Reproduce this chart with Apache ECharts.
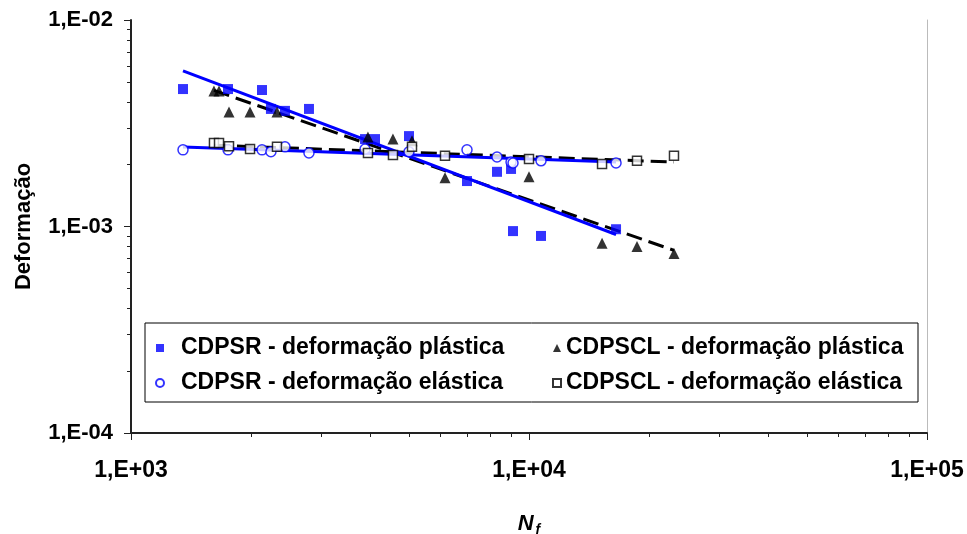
<!DOCTYPE html>
<html>
<head>
<meta charset="utf-8">
<script src="https://cdn.jsdelivr.net/npm/echarts@6/dist/echarts.min.js"></script>
<style>
  html, body { margin: 0; padding: 0; background: #fff; }
  #chart { width: 967px; height: 534px; }
</style>
</head>
<body>
<div id="chart"></div>
<script>
// CDPSR specimens
const srN = [1351, 1753, 2134, 2247, 2437, 2800, 3873, 4103, 4995, 6986, 8311, 9013, 9117, 10720, 16546]
const srPlastic = [0.00463, 0.00463, 0.00458, 0.00371, 0.00363, 0.00371, 0.00265, 0.00265, 0.00274, 0.00166, 0.00184, 0.00190, 0.00095, 0.00090, 0.00097]
const srElasticN = [1351, 1753, 2134, 2247, 2437, 2800, 3873, 4995, 6986, 8311, 9013, 9117, 10720, 16546]
const srElastic = [0.00235, 0.00235, 0.00235, 0.00230, 0.00243, 0.00227, 0.00237, 0.00230, 0.00235, 0.00217, 0.00205, 0.00203, 0.00208, 0.00203]

// CDPSCL specimens
const sclN = [1616, 1664, 1763, 1991, 2327, 3939, 4552, 5082, 6151, 10000, 15259, 18680, 23136]
const sclPlastic = [0.00453, 0.00453, 0.00358, 0.00358, 0.00358, 0.00271, 0.00265, 0.00260, 0.00172, 0.00174, 0.00083, 0.00080, 0.00074]
const sclElastic = [0.00254, 0.00254, 0.00245, 0.00237, 0.00243, 0.00227, 0.00222, 0.00243, 0.00220, 0.00212, 0.00201, 0.00208, 0.00220]

const seriesNames = [
    'CDPSR - deformação plástica',
    'CDPSCL - deformação plástica',
    'CDPSR - deformação elástica',
    'CDPSCL - deformação elástica'
]

const xMinor = [2e3, 3e3, 4e3, 5e3, 6e3, 7e3, 8e3, 9e3, 2e4, 3e4, 4e4, 5e4, 6e4, 7e4, 8e4, 9e4]
const yMinor = [2e-4, 3e-4, 4e-4, 5e-4, 6e-4, 7e-4, 8e-4, 9e-4, 2e-3, 3e-3, 4e-3, 5e-3, 6e-3, 7e-3, 8e-3, 9e-3]

const FONT = '"Liberation Sans", Arial, sans-serif'
const BLUE = '#0000ff'

function pairs(xs, ys) {
    return xs.map((x, i) => [x, ys[i]])
}

// power-law trend line (least squares in log-log space), like the spreadsheet trendline
function powerFit(xs, ys) {
    const lx = xs.map(Math.log10), ly = ys.map(Math.log10)
    const n = lx.length
    const mx = lx.reduce((a, b) => a + b, 0) / n
    const my = ly.reduce((a, b) => a + b, 0) / n
    let sxy = 0, sxx = 0
    for (let i = 0; i < n; i++) {
        sxy += (lx[i] - mx) * (ly[i] - my)
        sxx += (lx[i] - mx) * (lx[i] - mx)
    }
    const b = sxy / sxx
    const a = my - b * mx
    const x0 = Math.min(...xs), x1 = Math.max(...xs)
    return [[x0, Math.pow(10, a + b * Math.log10(x0))], [x1, Math.pow(10, a + b * Math.log10(x1))]]
}

function sciLabel(v) {
    const e = Math.round(Math.log10(v))
    const s = e < 0 ? '-' : '+'
    return '1,E' + s + String(Math.abs(e)).padStart(2, '0')
}

const labelStyle = { color: '#000', fontFamily: FONT, fontWeight: 'bold', fontSize: 22 }
const legendText = { color: '#000', fontFamily: FONT, fontWeight: 'bold', fontSize: 23, lineHeight: 24 }

const chart = echarts.init(document.getElementById('chart'), null, { renderer: 'canvas' })
chart.setOption({
    animation: false,
    backgroundColor: '#fff',
    grid: { left: 131, right: 40, top: 20, bottom: 101, containLabel: false, outerBoundsMode: 'none' },
    xAxis: [
        {
            type: 'log', logBase: 10, min: 1e3, max: 1e5,
            name: '{n|N}{f|f}', nameLocation: 'middle', nameGap: 78,
            nameTextStyle: {
                rich: {
                    n: { fontFamily: FONT, fontSize: 22, fontWeight: 'bold', fontStyle: 'italic', color: '#000' },
                    f: { fontFamily: FONT, fontSize: 14, fontWeight: 'bold', fontStyle: 'italic', color: '#000', padding: [12, 0, 0, 2] }
                }
            },
            axisLine: { lineStyle: { color: '#222', width: 2 } },
            axisTick: { show: true, length: 7, lineStyle: { color: '#222', width: 1 } },
            axisLabel: Object.assign({ margin: 26, formatter: sciLabel }, labelStyle, { fontSize: 23 }),
            splitLine: { show: false }
        },
        {
            type: 'log', logBase: 10, min: 1e3, max: 1e5, position: 'bottom',
            axisLine: { show: false },
            axisTick: { show: true, length: 4, customValues: xMinor, lineStyle: { color: '#222', width: 1 } },
            axisLabel: { show: false },
            splitLine: { show: false }
        }
    ],
    yAxis: [
        {
            type: 'log', logBase: 10, min: 1e-4, max: 1e-2,
            name: 'Deformação', nameLocation: 'middle', nameGap: 96,
            nameTextStyle: labelStyle,
            axisLine: { lineStyle: { color: '#222', width: 2 } },
            axisTick: { show: true, length: 7, lineStyle: { color: '#222', width: 1 } },
            axisLabel: Object.assign({ margin: 18, formatter: sciLabel }, labelStyle),
            splitLine: { show: false }
        },
        {
            type: 'log', logBase: 10, min: 1e-4, max: 1e-2, position: 'left',
            axisLine: { show: false },
            axisTick: { show: true, length: 4, customValues: yMinor, lineStyle: { color: '#222', width: 1 } },
            axisLabel: { show: false },
            splitLine: { show: false }
        },
        {
            type: 'log', logBase: 10, min: 1e-4, max: 1e-2, position: 'right',
            axisLine: { show: true, lineStyle: { color: '#bbb', width: 1 } },
            axisTick: { show: false },
            axisLabel: { show: false },
            splitLine: { show: false }
        }
    ],
    legend: [
        {
            data: [seriesNames[0], seriesNames[2]],
            orient: 'vertical', left: 155, top: 336, padding: 0,
            itemWidth: 8, itemHeight: 8, itemGap: 11,
            textStyle: Object.assign({ padding: [0, 0, 0, 12] }, legendText)
        },
        {
            data: [seriesNames[1], seriesNames[3]],
            orient: 'vertical', left: 552, top: 336, padding: 0,
            itemWidth: 8, itemHeight: 8, itemGap: 11,
            textStyle: legendText
        }
    ],
    graphic: [
        {
            type: 'rect', z: 1, silent: true,
            shape: { x: 145, y: 323, width: 773, height: 79 },
            style: { fill: '#fff', stroke: '#000', lineWidth: 1 }
        }
    ],
    series: [
        {
            type: 'line', data: powerFit(sclN, sclPlastic), showSymbol: false, z: 2,
            lineStyle: { color: '#000', width: 3, type: [16, 7] }
        },
        {
            type: 'line', data: powerFit(sclN, sclElastic), showSymbol: false, z: 2,
            lineStyle: { color: '#000', width: 3, type: [16, 7] }
        },
        {
            type: 'line', data: powerFit(srN, srPlastic), showSymbol: false, z: 3,
            lineStyle: { color: BLUE, width: 3 }
        },
        {
            type: 'line', data: powerFit(srElasticN, srElastic), showSymbol: false, z: 3,
            lineStyle: { color: BLUE, width: 3 }
        },
        {
            name: seriesNames[0], type: 'scatter', z: 5,
            data: pairs(srN, srPlastic), symbol: 'rect', symbolSize: 10,
            itemStyle: { color: BLUE }
        },
        {
            name: seriesNames[1], type: 'scatter', z: 5,
            data: pairs(sclN, sclPlastic), symbol: 'triangle', symbolSize: 11,
            itemStyle: { color: '#000' }
        },
        {
            name: seriesNames[2], type: 'scatter', z: 5,
            data: pairs(srElasticN, srElastic), symbol: 'circle', symbolSize: 10,
            itemStyle: { color: '#fff', borderColor: BLUE, borderWidth: 1.5 }
        },
        {
            name: seriesNames[3], type: 'scatter', z: 5,
            data: pairs(sclN, sclElastic), symbol: 'rect', symbolSize: 9,
            itemStyle: { color: '#fff', borderColor: '#000', borderWidth: 1.5 }
        }
    ]
})
</script>
</body>
</html>
